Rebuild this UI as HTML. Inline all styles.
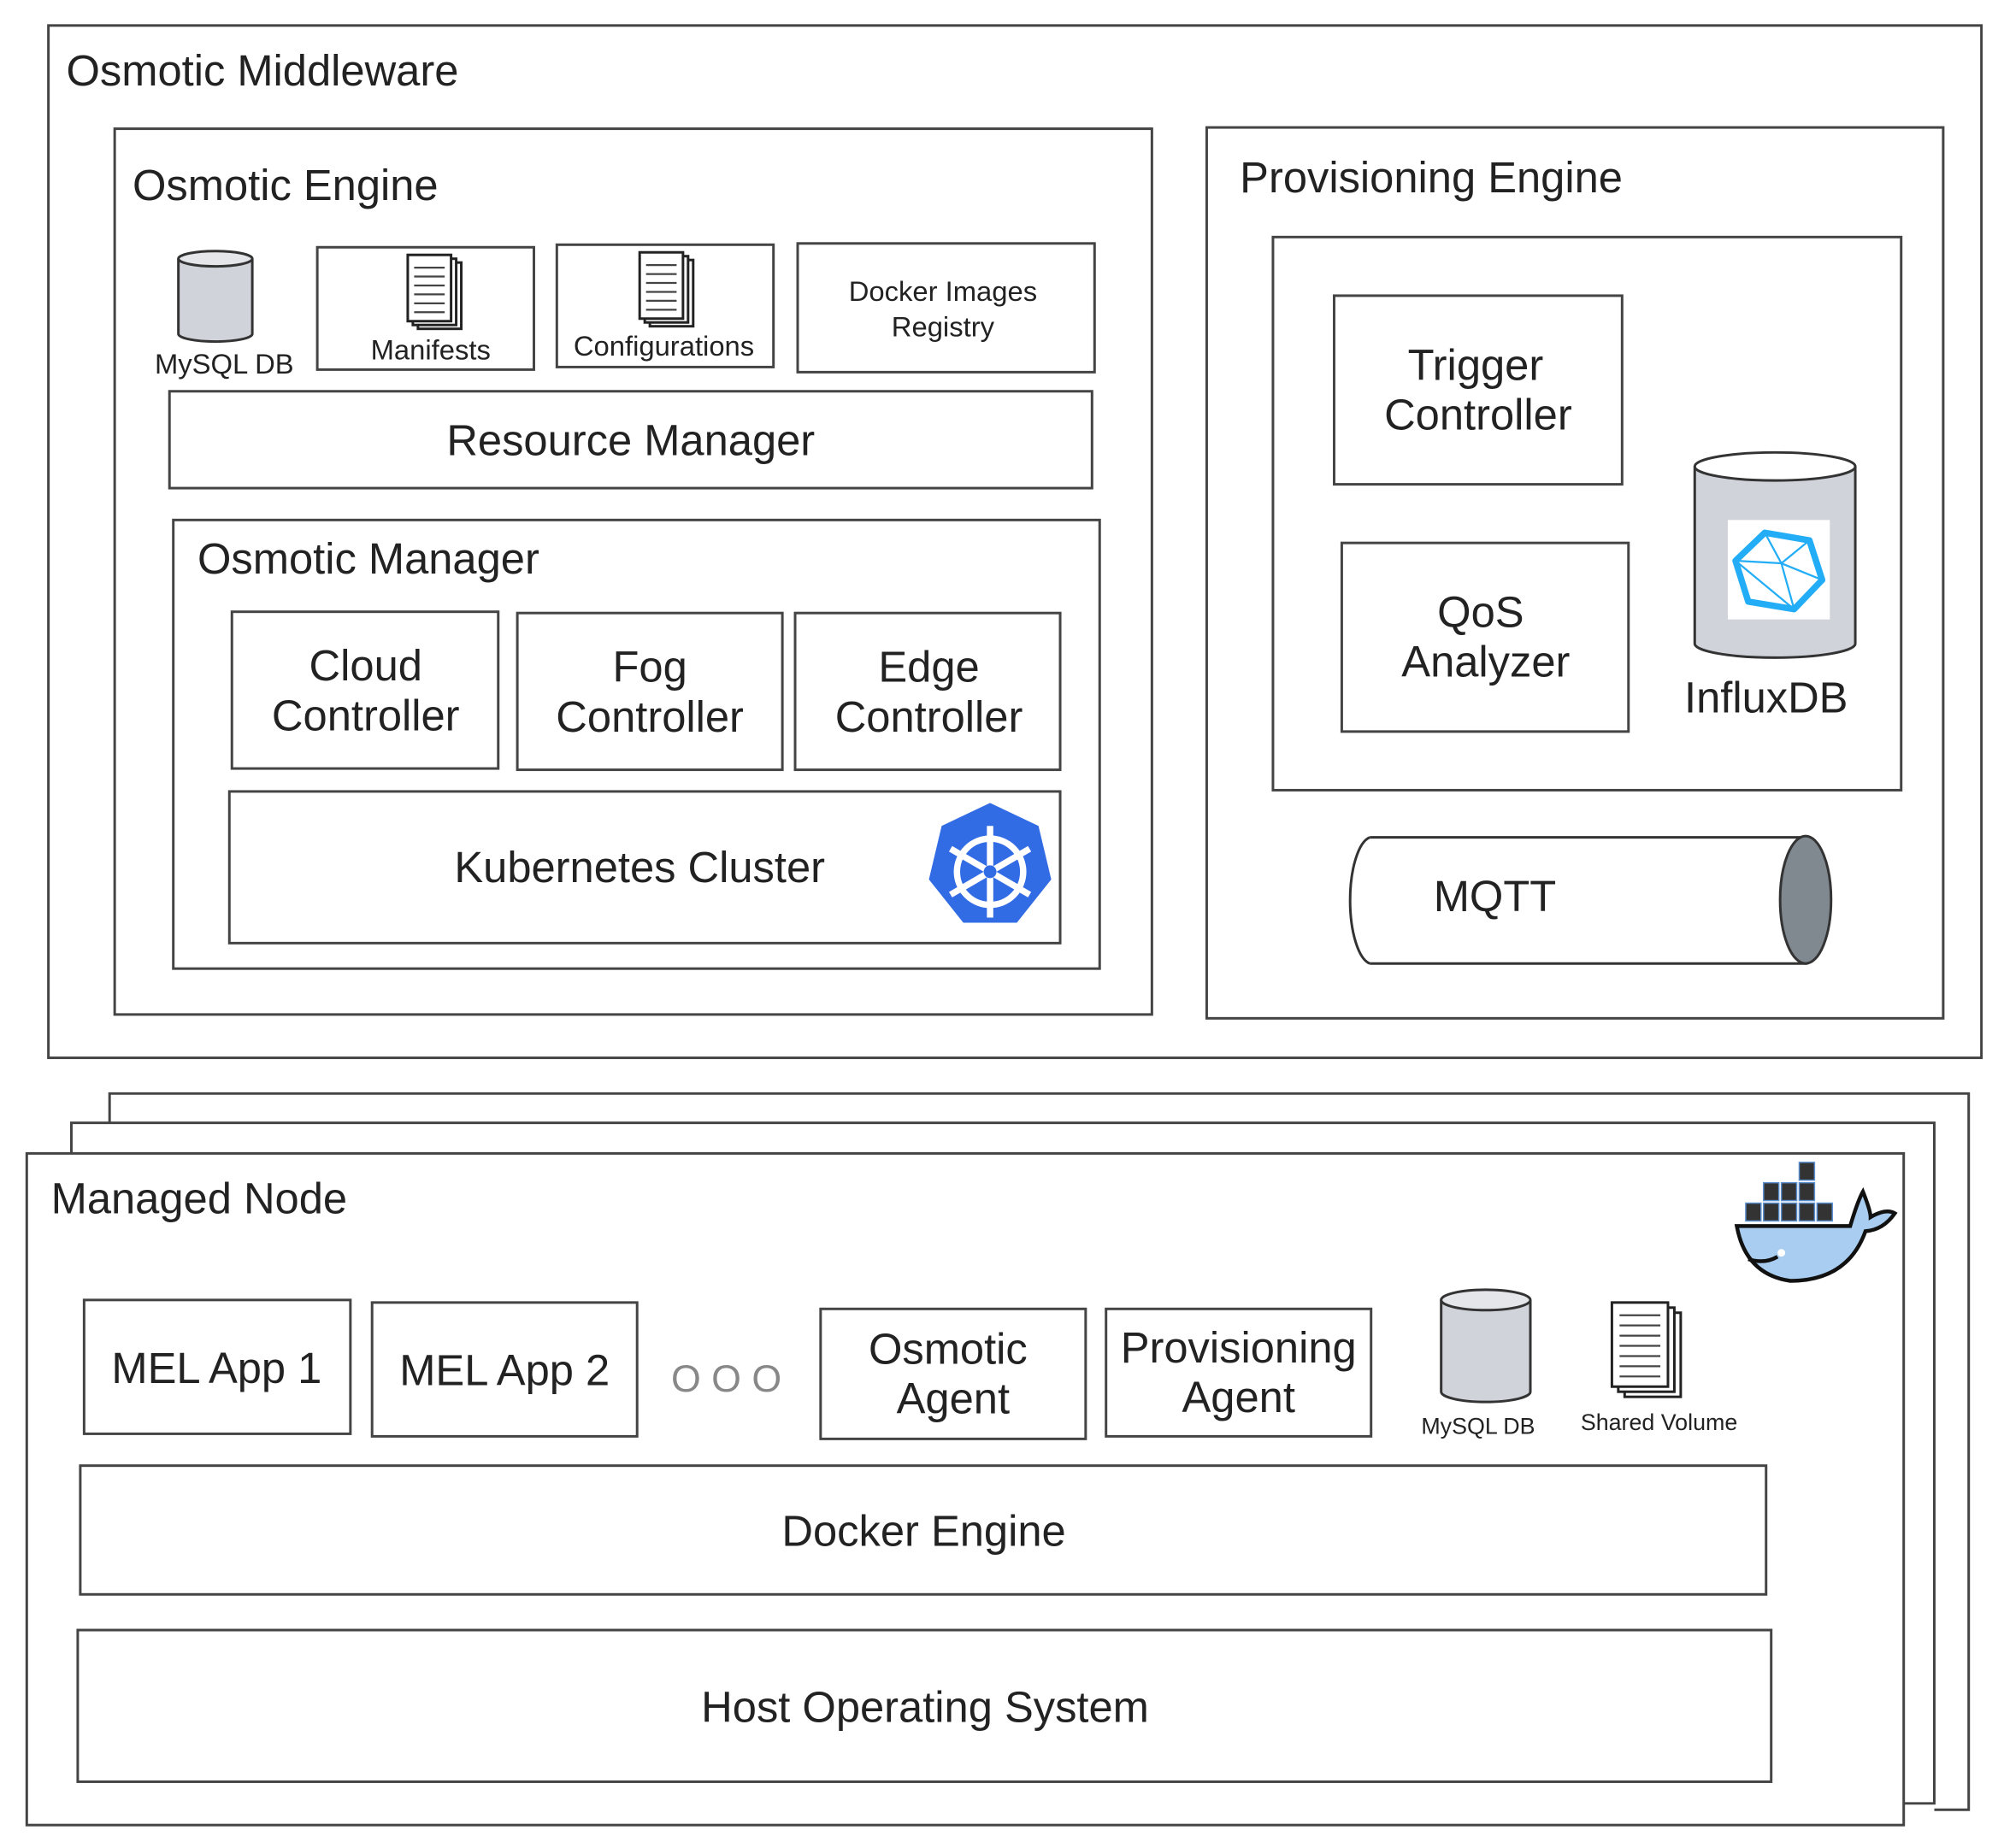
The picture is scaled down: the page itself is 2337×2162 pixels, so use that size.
<!DOCTYPE html>
<html><head><meta charset="utf-8"><style>
html,body{margin:0;padding:0;background:#fff;}
svg{display:block;}
text{font-family:"Liberation Sans",Arial,sans-serif;fill:#222;}
</style></head><body>
<svg width="2337" height="2162" viewBox="0 0 1568 1450" preserveAspectRatio="none" xmlns="http://www.w3.org/2000/svg">
<g fill="none" stroke="#444" stroke-width="2">
<rect x="38" y="20" width="1517" height="810"/>
<rect x="90" y="101" width="814" height="695"/>
<rect x="249" y="194" width="170" height="96"/>
<rect x="437" y="192" width="170" height="96"/>
<rect x="626" y="191" width="233" height="101"/>
<rect x="133" y="307" width="724" height="76"/>
<rect x="136" y="408" width="727" height="352"/>
<rect x="182" y="480" width="209" height="123"/>
<rect x="406" y="481" width="208" height="123"/>
<rect x="624" y="481" width="208" height="123"/>
<rect x="180" y="621" width="652" height="119"/>
<rect x="947" y="100" width="578" height="699"/>
<rect x="999" y="186" width="493" height="434"/>
<rect x="1047" y="232" width="226" height="148"/>
<rect x="1053" y="426" width="225" height="148"/>
<polyline points="86,881 86,858 1545,858 1545,1420 1518,1420"/>
<polyline points="56,905 56,881 1518,881 1518,1415 1494,1415"/>
<rect x="21" y="905" width="1473" height="527" fill="#fff"/>
<rect x="66" y="1020" width="209" height="105"/>
<rect x="292" y="1022" width="208" height="105"/>
<rect x="644" y="1027" width="208" height="102"/>
<rect x="868" y="1027" width="208" height="100"/>
<rect x="63" y="1150" width="1323" height="101"/>
<rect x="61" y="1279" width="1329" height="119"/>
</g>
<!-- MySQL top -->
<g stroke="#333" stroke-width="2">
<path d="M140,203 L140,262 A29,6 0 0 0 198,262 L198,203" fill="#d0d4da"/>
<ellipse cx="169" cy="203" rx="29" ry="6" fill="#e4e6ea"/>
<path d="M1131,1020 L1131,1092 A35,8 0 0 0 1201,1092 L1201,1020" fill="#d0d4da"/>
<ellipse cx="1166" cy="1020" rx="35" ry="8" fill="#e4e6ea"/>
<path d="M1330,366 L1330,505 A63,11 0 0 0 1456,505 L1456,366" fill="#d0d4da"/>
<ellipse cx="1393" cy="366" rx="63" ry="11" fill="#fff"/>
</g>
<!-- docs -->
<g stroke="#222" stroke-width="2" fill="#fff">
<rect x="328" y="206" width="34" height="52"/><rect x="324" y="203" width="34" height="52"/><rect x="320" y="200" width="34" height="52"/>
<rect x="510" y="204" width="34" height="52"/><rect x="506" y="201" width="34" height="52"/><rect x="502" y="198" width="34" height="52"/>
<rect x="1275" y="1030" width="44" height="66"/><rect x="1270" y="1026" width="44" height="66"/><rect x="1265" y="1022" width="44" height="66"/>
</g>
<g stroke="#444" stroke-width="1.5">
<path d="M325,210h24M325,217h24M325,224h24M325,231h24M325,238h24M325,245h24"/>
<path d="M507,208h24M507,215h24M507,222h24M507,229h24M507,236h24M507,243h24"/>
<path d="M1271,1032h32M1271,1040h32M1271,1048h32M1271,1056h32M1271,1064h32M1271,1072h32M1271,1080h32"/>
</g>
<!-- influx icon -->
<rect x="1356" y="408" width="80" height="78" fill="#fff"/>
<polygon points="1385,418 1420,424 1430,455 1408,478 1372,472 1362,440" fill="none" stroke="#22adf6" stroke-width="5" stroke-linejoin="round"/>
<path d="M1385,418 L1398,442 L1420,424 M1398,442 L1430,455 M1398,442 L1362,440 M1362,440 L1408,478 M1398,442 L1408,478" stroke="#22adf6" stroke-width="1.5" fill="none"/>
<!-- MQTT -->
<g stroke="#333" stroke-width="2">
<path d="M1075,657 L1417,657 L1417,756 L1075,756" fill="#fff"/>
<path d="M1075,657 A18,50 0 0 0 1075,756" fill="#fff"/>
<ellipse cx="1417" cy="706" rx="20" ry="50" fill="#808890"/>
</g>
<!-- k8s -->
<polygon points="777,630 815,648 825,690 798,724 756,724 729,690 739,648" fill="#326ce5"/>
<g stroke="#fff" stroke-width="5" fill="none">
<circle cx="777" cy="684" r="26"/>
<path d="M777,648V720M746,666L808,702M808,666L746,702"/>
</g>
<circle cx="777" cy="684" r="5" fill="#326ce5"/>
<!-- docker -->
<g>
<path d="M1363,962 L1452,962 Q1458,942 1462,935 Q1468,950 1468,955 Q1480,948 1487,952 Q1478,965 1464,966 Q1450,1005 1405,1005 Q1370,1000 1363,962Z" fill="#a8cdf0" stroke="#111" stroke-width="3"/>
<g fill="#333" stroke="#5a8fd0" stroke-width="1">
<rect x="1370" y="944" width="12" height="14"/><rect x="1384" y="944" width="12" height="14"/><rect x="1398" y="944" width="12" height="14"/><rect x="1412" y="944" width="12" height="14"/><rect x="1426" y="944" width="12" height="14"/>
<rect x="1384" y="928" width="12" height="14"/><rect x="1398" y="928" width="12" height="14"/><rect x="1412" y="928" width="12" height="14"/>
<rect x="1412" y="912" width="12" height="14"/>
</g>
<path d="M1372,988 Q1385,992 1395,986" stroke="#111" stroke-width="3" fill="none"/>
<circle cx="1398" cy="983" r="3" fill="#fff"/>
</g>
<!-- text -->
<g font-size="34">
<text x="52" y="67">Osmotic Middleware</text>
<text x="104" y="157">Osmotic Engine</text>
<text x="973" y="151">Provisioning Engine</text>
<text x="155" y="450">Osmotic Manager</text>
<text x="40" y="952">Managed Node</text>
</g>
<g font-size="34" text-anchor="middle">
<text x="495" y="357">Resource Manager</text>
<text x="287" y="534">Cloud</text><text x="287" y="573">Controller</text>
<text x="510" y="535">Fog</text><text x="510" y="574">Controller</text>
<text x="729" y="535">Edge</text><text x="729" y="574">Controller</text>
<text x="502" y="692">Kubernetes Cluster</text>
<text x="1158" y="298">Trigger</text><text x="1160" y="337">Controller</text>
<text x="1162" y="492">QoS</text><text x="1166" y="531">Analyzer</text>
<text x="1386" y="559">InfluxDB</text>
<text x="170" y="1085">MEL App 1</text>
<text x="396" y="1087">MEL App 2</text>
<text x="744" y="1070">Osmotic</text><text x="748" y="1109">Agent</text>
<text x="972" y="1069">Provisioning</text><text x="972" y="1108">Agent</text>
<text x="725" y="1213">Docker Engine</text>
<text x="726" y="1351">Host Operating System</text>
</g>
<text x="1125" y="715" font-size="34">MQTT</text>
<text x="570" y="1092" font-size="30" text-anchor="middle" fill="#777" style="fill:#888">O O O</text>
<g text-anchor="middle">
<text x="176" y="293" font-size="22">MySQL DB</text>
<text x="338" y="282" font-size="22">Manifests</text>
<text x="521" y="279" font-size="22">Configurations</text>
<text x="740" y="236" font-size="22">Docker Images</text>
<text x="740" y="264" font-size="22">Registry</text>
<text x="1160" y="1125" font-size="18">MySQL DB</text>
<text x="1302" y="1122" font-size="18">Shared Volume</text>
</g>
</svg>
</body></html>
